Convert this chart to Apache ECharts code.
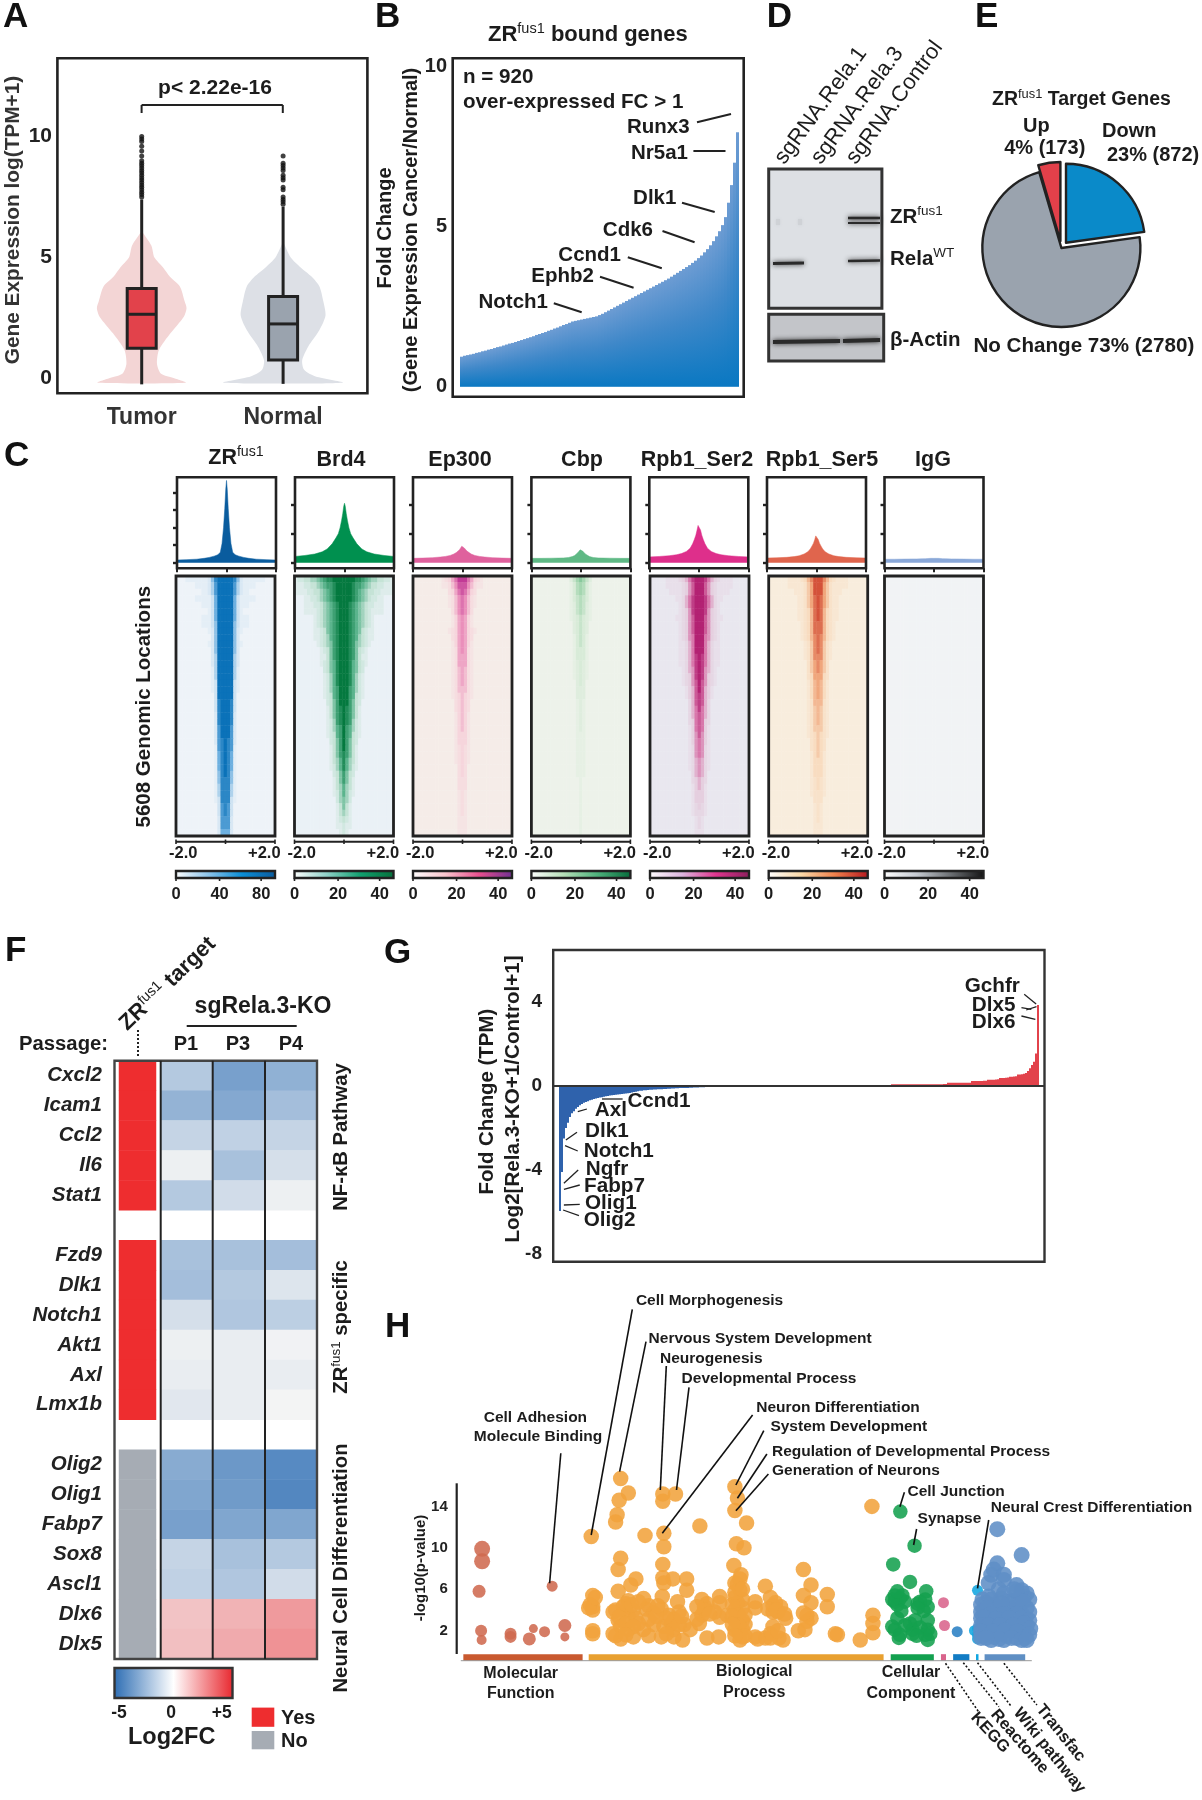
<!DOCTYPE html>
<html><head><meta charset="utf-8">
<style>html,body{margin:0;padding:0;background:#fff}#c{width:1202px;height:1800px}</style>
<script src="https://cdn.jsdelivr.net/npm/echarts@6/dist/echarts.min.js"></script>
</head><body><div id="c"></div>
<script>
// ===== Panel A =====
const violinCategories=['Tumor','Normal'];
const tumorViolin=[[6.1,0],[5.5,.068],[5,.09],[4.6,.15],[4.2,.2],[3.8,.27],[3.2,.303],[2.9,.317],[2.55,.298],[1.86,.203],[1.17,.122],[.6,.108],[.2,.135],[0,.23],[-.18,.311]];
const normalViolin=[[5.65,0],[5,.054],[4.6,.122],[4.2,.203],[3.8,.257],[3.2,.284],[2.6,.3],[2,.257],[1.3,.176],[.75,.135],[.35,.149],[.07,.23],[-.18,.42]];
const boxStats=[[0,-.25,1.24,2.65,3.72,7.4],[1,-.23,.76,2.25,3.38,7.1]];
const tumorOutliers=[7.5,7.6,7.7,7.8,7.9,8,8.1,8.2,8.3,8.4,8.5,8.6,8.7,8.8,8.9,9,9.2,9.4,9.6,9.8,9.9,10];
const normalOutliers=[7.2,7.3,7.4,7.5,7.8,7.9,8.2,8.3,8.4,8.6,8.7,8.8,8.9,9.2];
// ===== Panel B =====
const boundGeneFC=[.94,.97,.99,1.01,1.03,1.06,1.08,1.11,1.13,1.16,1.18,1.21,1.24,1.26,1.29,1.32,1.35,1.37,1.4,1.43,1.46,1.49,1.52,1.55,1.58,1.62,1.65,1.68,1.71,1.75,1.78,1.82,1.85,1.89,1.93,1.96,2,2.04,2.06,2.08,2.1,2.12,2.14,2.16,2.18,2.2,2.24,2.28,2.33,2.38,2.43,2.48,2.53,2.58,2.63,2.68,2.73,2.78,2.83,2.88,2.93,2.98,3.03,3.08,3.13,3.18,3.23,3.28,3.33,3.38,3.44,3.5,3.56,3.62,3.68,3.74,3.8,3.87,3.94,4.02,4.1,4.2,4.3,4.42,4.55,4.7,4.86,5.05,5.3,5.75,6.3,7,7.95];
// ===== Panel C =====
const trackNames=['ZR','Brd4','Ep300','Cbp','Rpb1_Ser2','Rpb1_Ser5','IgG'];
const profileX=[-2,-1.6,-1.2,-.9,-.7,-.5,-.35,-.25,-.18,-.12,-.07,-.03,0,.03,.07,.12,.18,.25,.35,.5,.7,.9,1.2,1.6,2];
const zrProfile=[3,3.5,4,5,6,7.5,9,12,22,40,62,84,94,84,62,40,22,12,9,7.5,6,5,4,3.5,3];
const brd4Profile=[4.3,5,6,7.5,9.5,13,17,20,24,29,34,39,41,39,34,29,24,20,17,13,9.5,7.5,6,5,4.3];
const ep300Profile=[3,3.2,3.5,3.9,4.3,5,6,7,8,9,10.2,11.4,12,11.4,10.2,9,8,7,6,5,4.3,3.9,3.5,3.2,3];
const cbpProfile=[3,3,3.1,3.2,3.3,3.6,4.2,5,6,7,8,8.9,9.2,8.9,8,7,6,5,4.2,3.6,3.3,3.2,3.1,3,3];
const ser2Profile=[4,4.3,4.8,5.5,6.3,7.8,10,13,16,19,22.5,25.7,27,25.7,22.5,19,16,13,10,7.8,6.3,5.5,4.8,4.3,4];
const ser5Profile=[3.2,3.4,3.7,4.2,4.8,6,7.5,9.5,11.5,13.5,16,18.5,19.5,18.5,16,13.5,11.5,9.5,7.5,6,4.8,4.2,3.7,3.4,3.2];
const iggProfile=[2.4,2.4,2.5,2.6,2.6,2.7,2.8,2.9,3,3,3,3,3,3,3,3,3,2.9,2.8,2.7,2.6,2.6,2.5,2.4,2.4];
const zrRows=["9998521111111","9997421111","99974211","9996311111","99963111","999631","99963111","99953111","999521","99952","999521","99952","99942","99942","99941","99941","99931","99931","9993","9983","9983","9982","9982","9972","9972","9872","9871","9861","9861","9861","9851","8851","8841","8841","8831","873","873","772","772","662"];
const brd4Rows=["9999887654433221","9998776543322111","9998765433221111","9998765432211","9987654322111","9987654321111","9987654321","9987654321","9987653211","9987643211","998754321","99875321","99875311","99865321","9986532","9986421","9986421","9976421","9976321","997532","987531","987531","987421","976421","976321","97532","97531","87531","86431","86421","7532","7531","6431","6421","542","531","431","321","211","21"];
const ep300Rows=["9975321","8864211","87532","76421","76421","7642","6531","6531","65321","6532","6531","6521","5521","5521","5421","5421","5421","4421","4321","432","432","431","431","431","331","331","321","321","321","32","32","22","22","21","21","21","21","11","11","11"];
const cbpRows=["7642","6531","6531","5431","5421","5421","4321","432","432","431","431","331","331","321","321","321","32","22","22","21","21","21","21","21","11","11","11","11","11","11","11","1","1","1","1","1","1","1","1","1"];
const ser2Rows=["99864321111","99753211111","9975321111","99864211","9986421","9985321","99753211","9975321","9975321","9965321","9964211","9964211","9864211","9864211","985421","985321","975321","97431","87431","8742","8642","7642","7632","7631","7531","6531","6521","6521","5421","5421","542","432","431","331","331","321","221","21","21","11"];
const ser5Rows=["9975321111","9964211111","99642111","9864211","9864211","9853211","9853211","885321","885321","875321","87421","87421","77421","7642","7642","6632","6531","6531","6531","5521","5421","5421","5421","4421","4321","432","432","431","331","331","331","321","321","221","22","21","21","21","11","11"];
const iggRows=Array(40).fill("0");
const colorbarTicks=[[0,40,80],[0,20,40],[0,20,40],[0,20,40],[0,20,40],[0,20,40],[0,20,40]];
// ===== Panel E =====
const pieNames=['Down','No Change','Up'];
const pieValues=[872,2780,173];
// ===== Panel F =====
const fGenes=['Cxcl2','Icam1','Ccl2','Il6','Stat1','','Fzd9','Dlk1','Notch1','Akt1','Axl','Lmx1b',' ','Olig2','Olig1','Fabp7','Sox8','Ascl1','Dlx6','Dlx5'];
const fPassages=['P1','P3','P4'];
const fP1=[-1.6,-2.4,-1.2,-.2,-1.6,null,-1.9,-2,-.8,-.2,-.3,-.5,null,-2.7,-2.9,-3.1,-1.2,-1.3,1.2,1.3];
const fP3=[-3.1,-2.8,-1.3,-1.9,-.9,null,-1.9,-1.6,-1.7,-.3,-.3,-.3,null,-3.4,-3.3,-2.9,-1.9,-1.7,1.6,1.8];
const fP4=[-2.5,-2,-1.2,-.8,-.2,null,-2,-.6,-1.4,-.1,-.3,-.05,null,-3.9,-4,-2.9,-1.6,-.9,2.2,2.4];
const fTarget=[1,1,1,1,1,null,1,1,1,1,1,1,null,0,0,0,0,0,0,0];
// ===== Panel G =====
const downFC=[-5.95,-4.1,-2.5,-2,-1.75,-1.48,-1.3,-1.2,-1.08,-1,-.92,-.86,-.8,-.76,-.72,-.68,-.65,-.62,-.6,-.57,-.55,-.53,-.51,-.49,-.47,-.45,-.44,-.43,-.42,-.4,-.39,-.38,-.37,-.36,-.35,-.33,-.31,-.29,-.27,-.25,-.23,-.22,-.2,-.2,-.19,-.18,-.18,-.17,-.17,-.16,-.15,-.15,-.14,-.14,-.13,-.13,-.12,-.12,-.11,-.11,-.1,-.1,-.09,-.09,-.09,-.08,-.08,-.07,-.07,-.07,-.06,-.06,-.06];
const flatCount=93;
const upFC=[.09,.09,.09,.09,.09,.09,.09,.09,.09,.09,.09,.09,.09,.09,.09,.09,.09,.09,.09,.09,.09,.09,.09,.09,.09,.09,.1,.1,.15,.15,.15,.15,.15,.15,.15,.15,.15,.16,.16,.16,.24,.24,.24,.24,.24,.24,.25,.25,.3,.3,.3,.3,.31,.32,.38,.38,.38,.39,.4,.44,.44,.45,.46,.55,.55,.56,.58,.62,.72,.85,1,1.16,1.55,3.86];
// ===== Panel H =====
const mfTerms=[[142,9.9,16],[142,8.7,16],[136,5.8,13],[140,2,12],[141,1.1,10],[198,1.7,12],[198,1.4,12],[235,1.2,13],[243,2.2,9],[265,1.9,11],[305,2.5,13],[305,1.4,9],[280,6.3,11]];
const bpTerms=[[357,11.1],[415,16.7],[430,15.3],[412,14.6],[408,13.2],[405,12.5],[415,9],[410,7.9],[498,15.2],[498,14.5],[523,15.2],[500,11.4],[500,10.1],[498,8.4],[498,7.1],[518,7],[500,6.6],[463,11.2],[571,12.1],[640,15.9],[645,14.8],[640,13.6],[663,12.4],[643,10.4],[658,10],[638,8.3],[652,7.4],[640,6.6],[910,14],[775,7.9],[790,6.4],[700,6.3],[822,5.5],[545,7],[545,5.9],[445,7],[435,6.4],[410,5.8],[360,5.4],[360,4.3],[355,4.5],[360,1.7],[405,4],[400,1.7],[415,1.2],[430,4.9],[460,5.1],[420,4.3],[440,4],[465,4.1],[430,3.4],[410,3],[450,2.7],[430,2.1],[415,2.4],[440,1.4],[460,2.1],[497,5.3],[527,4.8],[495,4.1],[510,3.5],[530,3.8],[500,2.4],[515,2.7],[495,1.4],[520,1.4],[537,1.1],[552,2.1],[575,5],[580,4.3],[575,3.5],[570,2.7],[585,1.3],[610,5.3],[610,4.7],[610,3.3],[608,1.4],[640,5.2],[650,5.9],[655,5],[640,4],[655,4.2],[640,3],[655,3],[640,2.1],[655,2.1],[650,1.1],[655,1.4],[680,4.8],[680,4.2],[680,1.4],[700,1.3],[710,5.2],[715,4.4],[730,4.3],[715,3.8],[740,3.2],[715,2.4],[710,1.7],[727,1.3],[765,2],[778,2.1],[775,5.4],[790,4.7],[782,3.5],[790,3.2],[822,4.3],[838,1.7],[842,1.6],[887,1.1],[912,3.5],[912,2.7],[912,1.8],[425,3.9],[445,3.2],[470,4.4],[480,3.7],[520,3.1],[540,2.6],[585,4.6],[600,3.8],[625,3.5],[645,4.7],[660,2.6],[648,1.8],[725,3.8],[735,1.1],[400,3.8],[412,3.3],[425,4.6],[437,4.5],[450,4.8],[470,3.1],[480,2.6],[425,2.7],[440,2.4],[405,1.5],[425,1.6],[470,1.5],[505,3.2],[518,2.1],[530,2.6],[505,1.7],[485,3.4],[488,4.4],[535,3.4],[565,3.1],[580,4],[565,4.3],[590,3.6],[635,4.5],[648,3.5],[635,3.4],[660,3.5],[648,2.5],[635,2.6],[660,1.5],[640,1.5],[645,6.5],[650,7],[640,5.7],[655,6],[720,4.7],[705,4.1],[722,4],[738,3.6],[782,2.9],[775,3.7],[710,1.3],[725,2],[685,1.2],[360,4],[352,4.2],[365,5.2],[360,2]];
const ccTerms=[[966,13.5],[994,10.2],[952,8.4],[985,6.7],[955,5.4],[970,5.4],[1017,5.8],[960,4.5],[1000,4.6],[1020,4.3],[985,2.7],[960,3.2],[995,3],[1020,3],[955,2.1],[990,2.1],[1020,2.1],[963,1.3],[1020,1.1],[975,4.8],[1005,4.8],[955,4.8],[965,5.1],[990,1.7],[1025,1.7],[968,3.9],[1012,3.9],[950,5],[960,5.8],[1015,5],[1000,4.2],[1005,2.3],[975,2.5],[1015,1.6],[950,2.4],[965,1.6],[998,1.5]];
const keggTerms=[[1051,4.7],[1053,2.5]];
const reactomeTerms=[[1078,1.9]];
const wikiTerms=[[1118,5.9],[1118,2.2],[1118,1.6],[1112,2],[1118,1.2]];
const transfacTerms=[[1157,11.8],[1205,9.3],[1157,8.5],[1145,7.4],[1170,6.9],[1140,6.6],[1195,6.4],[1205,5.9],[1210,5.3],[1140,5.3],[1165,5.1],[1190,4.9],[1135,4.7],[1150,4.5],[1175,4.4],[1200,4.4],[1215,4.2],[1130,3.9],[1155,3.8],[1180,3.8],[1205,3.7],[1140,3.3],[1165,3.2],[1190,3.1],[1213,3.2],[1130,2.7],[1150,2.6],[1175,2.6],[1200,2.6],[1215,2.5],[1135,2.1],[1160,2],[1185,2],[1208,2],[1130,1.5],[1150,1.4],[1175,1.5],[1195,1.3],[1212,1.3],[1145,1.1],[1170,1.1],[1160,1.7],[1125,3.2],[1125,4.5],[1160,6],[1128,5],[1145,5],[1170,5.6],[1180,4.8],[1200,5.2],[1215,5.6],[1195,5.8],[1220,5],[1125,3.8],[1138,4.2],[1160,4.2],[1188,4.2],[1165,4.6],[1208,4.8],[1220,3.8],[1145,3.6],[1170,3.6],[1195,3.6],[1130,3.3],[1155,3.1],[1180,3.2],[1205,3.2],[1220,3],[1125,2.5],[1140,2.5],[1162,2.5],[1188,2.5],[1210,2.7],[1222,2.2],[1125,1.9],[1148,1.9],[1172,2],[1197,1.9],[1220,1.6],[1125,1.3],[1160,1.2],[1185,1.3],[1205,1.1],[1215,1.1],[1135,1.3],[1150,7.9],[1170,7.4],[1190,6]];
const ontologyExtent=[[105,340],[352,933],[947,1032],[1046,1056],[1070,1102],[1115,1120],[1132,1212]];

// ===== helpers =====
const FF='"Liberation Sans",Arial,sans-serif', INK='#222';
const grids=[],xAxes=[],yAxes=[],series=[],visualMaps=[],G=[];
function addGrid(l,t,w,h,x,y){grids.push({left:l,top:t,width:w,height:h,containLabel:false});const i=grids.length-1;xAxes.push(Object.assign({gridIndex:i},x));yAxes.push(Object.assign({gridIndex:i},y));return i;}
function T(text,x,y,o={}){G.push({type:'text',silent:true,z:60,x,y,rotation:(o.rot||0)*Math.PI/180,style:{text,fill:o.color||'#1c1c1c',font:`${o.italic?'italic ':''}${o.w||'bold'} ${o.s||18}px ${FF}`,align:o.a||'left',verticalAlign:o.v||'middle'}});}
function S(base,sup,tail,x,y,o={}){const s=o.s||18;const a={fontFamily:FF,fontWeight:'bold',fontSize:s,lineHeight:s*1.2,fill:'#1c1c1c'};G.push({type:'text',silent:true,z:60,x,y,rotation:(o.rot||0)*Math.PI/180,style:{text:`{a|${base}}{b|${sup}}`+(tail?`{a|${tail}}`:''),fill:'#1c1c1c',align:o.a||'left',verticalAlign:'middle',rich:{a,b:{fontFamily:FF,fontWeight:'normal',fontSize:s*.66,lineHeight:s*1.2,verticalAlign:'top',fill:'#1c1c1c'}}}});}
function L(x1,y1,x2,y2,o={}){G.push({type:'line',silent:true,z:o.z||55,shape:{x1,y1,x2,y2},style:{stroke:o.c||INK,lineWidth:o.w||1.6,lineDash:o.dash||null,shadowBlur:o.blur||0,shadowColor:o.c||INK}});}
function R(x,y,w,h,o={}){G.push({type:'rect',silent:true,z:o.z||55,shape:{x,y,width:w,height:h},style:{fill:o.fill||'none',stroke:o.stroke||null,lineWidth:o.lw||0}});}

// ----- A -----
const aGrid=addGrid(71,58.3,282.8,335,
 {type:'category',data:violinCategories,axisLine:{show:false},axisTick:{alignWithLabel:true,length:3,lineStyle:{color:INK,width:2}},axisLabel:{margin:13,color:'#333',fontFamily:FF,fontWeight:'bold',fontSize:23}},
 {type:'value',min:-.62,max:13.24,splitLine:{show:false},axisLine:{show:false},axisTick:{show:false},axisLabel:{customValues:[0,5,10],margin:19,color:'#222',fontFamily:FF,fontWeight:'bold',fontSize:21}});
function violinSeries(idx,profile,color){series.push({type:'custom',xAxisIndex:aGrid,yAxisIndex:aGrid,silent:true,data:[[idx,profile[0][0]]],clip:false,z:2,renderItem:(p,api)=>{const band=api.size([1,0])[0];const left=profile.map(d=>{const c=api.coord([idx,d[0]]);return[c[0]-d[1]*band,c[1]];});const right=profile.slice().reverse().map(d=>{const c=api.coord([idx,d[0]]);return[c[0]+d[1]*band,c[1]];});return{type:'polygon',shape:{points:left.concat(right),smooth:.25},style:{fill:color}};}});}
violinSeries(0,tumorViolin,'#f3d5d5');violinSeries(1,normalViolin,'#dde0e6');
const boxFill=['#e2424b','#9aa3ae'];
series.push({type:'custom',xAxisIndex:aGrid,yAxisIndex:aGrid,silent:true,z:3,clip:false,data:boxStats,renderItem:(p,api)=>{const i=api.value(0),lo=api.coord([i,api.value(1)]),q1=api.coord([i,api.value(2)]),m=api.coord([i,api.value(3)]),q3=api.coord([i,api.value(4)]),hi=api.coord([i,api.value(5)]),w=29;const st={stroke:INK,lineWidth:3};return{type:'group',children:[{type:'line',shape:{x1:lo[0],y1:lo[1],x2:hi[0],y2:hi[1]},style:st},{type:'rect',shape:{x:q1[0]-w/2,y:q3[1],width:w,height:q1[1]-q3[1]},style:{fill:boxFill[i],stroke:INK,lineWidth:3}},{type:'line',shape:{x1:m[0]-w/2,y1:m[1],x2:m[0]+w/2,y2:m[1]},style:st}]};}});
series.push({type:'scatter',xAxisIndex:aGrid,yAxisIndex:aGrid,silent:true,z:3,symbolSize:5,itemStyle:{color:'#111'},data:tumorOutliers.map(v=>[0,v]).concat(normalOutliers.map(v=>[1,v]))});
R(57.4,58.3,310,335,{stroke:INK,lw:2.6});
L(141.6,113,141.6,105,{w:2});L(141.6,105,282.8,105,{w:2});L(282.8,105,282.8,113,{w:2});
T('p< 2.22e-16',215,88,{a:'center',s:21});
T('Gene Expression log(TPM+1)',13.4,220,{rot:90,a:'center',s:20.8,color:'#333'});
T('A',3,17,{s:35,color:'#111'});

// ----- B -----
const bGrid=addGrid(460,58.3,279,331.7,
 {type:'category',data:boundGeneFC.map((_,i)=>i+1),show:false},
 {type:'value',min:-.1,max:10.26,splitLine:{show:false},axisLine:{show:false},axisTick:{show:false},axisLabel:{customValues:[0,5,10],margin:13,color:'#222',fontFamily:FF,fontWeight:'bold',fontSize:20}});
series.push({type:'bar',xAxisIndex:bGrid,yAxisIndex:bGrid,silent:true,barCategoryGap:0,data:boundGeneFC,itemStyle:{color:{type:'linear',x:0,y:0,x2:0,y2:1,colorStops:[{offset:0,color:'#6d9cd3'},{offset:.45,color:'#3f88c9'},{offset:1,color:'#0a78c2'}]}}});
R(452.7,58.3,291,338.4,{stroke:INK,lw:2.6});
S('ZR','fus1',' bound genes',488,35,{s:22});
T('n = 920',463,77,{s:20.6});T('over-expressed FC > 1',463,102.7,{s:20.6});
T('Fold Change',385.8,228,{rot:90,a:'center',s:20});T('(Gene Expression Cancer/Normal)',411,230,{rot:90,a:'center',s:20});
[['Runx3',689.6,127.3,697,122.3,731,114],['Nr5a1',688,153,693.4,151,725.5,151],['Dlk1',676.4,198,682,202.7,714.7,212],['Cdk6',653,230.7,662.5,231,694.6,242.3],['Ccnd1',621,255,627.8,257.3,661.8,268.3],['Ephb2',594,276.7,600,276.7,633.6,287.7],['Notch1',548,302.7,553.8,303.3,581.7,312.3]].forEach(a=>{T(a[0],a[1],a[2],{a:'right',s:20.5});L(a[3],a[4],a[5],a[6],{w:2});});
T('B',375,17,{s:35,color:'#111'});

// ----- C -----
const trackLefts=[177,295,413,531.4,649.3,767,884.5];
const heatLefts=[176,294.5,413,531.4,650,768.7,884.5];
const profiles=[zrProfile,brd4Profile,ep300Profile,cbpProfile,ser2Profile,ser5Profile,iggProfile];
const trackColor=['#0a5c9e','#00904f','#df619d','#5fb985','#de2f8b','#e0654d','#8aa8d8'];
const heatRows=[zrRows,brd4Rows,ep300Rows,cbpRows,ser2Rows,ser5Rows,iggRows];
const heatScale=[['#eef3f8','#cfe3f2','#6db0e0','#0b72b9'],['#eaf1f6','#c5e3d6','#5bb48d','#04793f'],['#f5ece8','#f6d5dc','#ea8fbb','#c23a96'],['#edf2ea','#d8ebd8','#a4d6b0','#4fae78'],['#e9e7ef','#e5cfdf','#d877ab','#b32273'],['#f8eddd','#f8dcc0','#f0a67c','#d4523a'],['#f1f3f5','#eceef1','#dde0e4']];
const barStops=[['#fff','#8cc4ea','#0a8ed6','#0b5a9c'],['#fff','#8fd1c8','#11a06f','#05703a'],['#fff','#f9c5cd','#e8508f','#6e2f92'],['#fff','#b5dfb8','#4eb27c','#056b3a'],['#fff','#dcb4de','#e0368f','#8a1e5c'],['#fff','#fad9a8','#f0824d','#b5171e'],['#fff','#c6cbd2','#6c7074','#111']];
const titleCX=[236,341,460,582,697,822,933];
const colIdx=Array.from({length:31},(_,i)=>i),rowIdx=Array.from({length:40},(_,i)=>i);
trackNames.forEach((n,k)=>{
 const isZr=k===0,l=trackLefts[k],W=99;
 const gi=addGrid(l,477.3,W,91,
  {type:'value',min:-2,max:2,axisLine:{show:false,onZero:false},splitLine:{show:false},axisLabel:{show:false},axisTick:{customValues:[-2,0,2],length:4,lineStyle:{color:INK,width:2}}},
  {type:'value',min:isZr?-6.4:-3.86,max:isZr?97.6:58.9,axisLine:{show:false,onZero:false},splitLine:{show:false},axisLabel:{show:false},axisTick:{customValues:isZr?[0,20,40,60,80]:[0,20,40],length:4,lineStyle:{color:INK,width:2.4}}});
 series.push({type:'line',xAxisIndex:gi,yAxisIndex:gi,silent:true,symbol:'none',lineStyle:{width:.5,color:trackColor[k]},areaStyle:{color:trackColor[k],opacity:1},data:profileX.map((x,i)=>[x,profiles[k][i]])});
 R(l,477.3,W,91,{stroke:INK,lw:2.6});
 if(isZr)S('ZR','fus1','',titleCX[k],458,{s:21.5,a:'center'});else T(n,titleCX[k],460,{a:'center',s:21.5});
 const hl=heatLefts[k];
 const hi=addGrid(hl,576,99,260,{type:'category',data:colIdx,show:false},{type:'category',data:rowIdx,inverse:true,show:false});
 const cells=[];heatRows[k].forEach((row,r)=>{for(let c=0;c<31;c++){const d=Math.abs(c-15);cells.push([c,r,+(row[d]||0)]);}});
 series.push({type:'heatmap',xAxisIndex:hi,yAxisIndex:hi,silent:true,progressive:0,data:cells,emphasis:{disabled:true}});
 visualMaps.push({show:false,type:'continuous',min:0,max:9,seriesIndex:series.length-1,dimension:2,inRange:{color:heatScale[k]}});
 R(hl,576,99,260,{stroke:INK,lw:2.8});
 L(hl,841.7,hl+99,841.7,{w:2});[0,49.5,99].forEach(d=>L(hl+d,839.5,hl+d,844,{w:1.6}));
 T('-2.0',hl-7,853.5,{s:16.5});T('+2.0',hl+72,853.5,{s:16.5});
 const st=barStops[k];
 R(hl,871,99,7,{fill:{type:'linear',x:0,y:0,x2:1,y2:0,colorStops:[{offset:0,color:st[0]},{offset:.33,color:st[1]},{offset:.66,color:st[2]},{offset:1,color:st[3]}]},stroke:INK,lw:2.4});
 colorbarTicks[k].forEach((t,i)=>{const px=hl+[0,.44,.86][i]*99;L(px,878,px,881,{w:1.6});T(String(t),px,894,{a:'center',s:16.5});});
});
T('5608 Genomic Locations',144.3,706.7,{rot:90,a:'center',s:20.5});
T('C',4,456,{s:35,color:'#111'});

// ----- D -----
R(768.7,169,113.2,139.3,{fill:'#dde0e4',stroke:'#333',lw:3});
R(768.7,314.3,115,46.7,{fill:'#c3c5c9',stroke:'#333',lw:3});
[[848,218,880,218,2.6],[848,223,880,223,2],[773,263.5,804,263,3],[848,261,880,260.5,2.6],[773,342,840,341,3.8],[843,341,880,340,3.8]].forEach(b=>L(b[0],b[1],b[2],b[3],{w:b[4],c:'#2a2a2a',blur:5}));
[[778,222],[800,222]].forEach(b=>L(b[0],b[1]-3,b[0],b[1]+3,{w:4,c:'#cfd2d6',blur:3}));
T('sgRNA.Rela.1',779.5,161.7,{rot:53.5,s:22,w:'normal'});T('sgRNA.Rela.3',816,161.7,{rot:53.5,s:22,w:'normal'});T('sgRNA.Control',851,161.7,{rot:53.5,s:22,w:'normal'});
S('ZR','fus1','',890,217,{s:20.5});S('Rela','WT','',890,259,{s:20.5});T('β-Actin',890,340,{s:20.5});
T('D',766.8,17,{s:35,color:'#111'});

// ----- E -----
series.push({type:'pie',center:[1061.4,248],radius:[0,79],startAngle:90,clockwise:true,silent:true,selectedMode:'multiple',selectedOffset:7,label:{show:false},labelLine:{show:false},itemStyle:{borderColor:INK,borderWidth:2.4},
 data:[{name:pieNames[0],value:pieValues[0],selected:true,itemStyle:{color:'#0a8ac9'}},{name:pieNames[1],value:pieValues[1],itemStyle:{color:'#9aa3ae'}},{name:pieNames[2],value:pieValues[2],selected:true,itemStyle:{color:'#e2404a'}}]});
S('ZR','fus1',' Target Genes',992,100,{s:19.5});
T('Up',1036.3,126.7,{a:'center',s:20});T('4% (173)',1044.8,148.3,{a:'center',s:20});
T('Down',1102,131.7,{s:20});T('23% (872)',1107,155,{s:20});
T('No Change 73% (2780)',973.4,346,{s:20.6});
T('E',975,17,{s:35,color:'#111'});

// ----- F -----
const fRows=fGenes.map((_,i)=>i);
const tGrid=addGrid(119,1060.8,37,598.2,{type:'category',data:['target'],show:false},{type:'category',data:fRows,inverse:true,axisLine:{show:false},axisTick:{show:false},axisLabel:{margin:17,interval:0,formatter:v=>fGenes[+v],fontFamily:FF,fontWeight:'bold',fontStyle:'italic',fontSize:20.5,color:'#222'}});
series.push({type:'heatmap',xAxisIndex:tGrid,yAxisIndex:tGrid,silent:true,data:fTarget.map((v,i)=>[0,i,v]).filter(d=>d[2]!==null),emphasis:{disabled:true}});
visualMaps.push({show:false,type:'continuous',min:0,max:1,seriesIndex:series.length-1,dimension:2,inRange:{color:['#a6acb4','#ee2d2f']}});
const fGrid=addGrid(160.7,1060.8,156,598.2,{type:'category',data:fPassages,show:false},{type:'category',data:fRows,inverse:true,show:false});
const fCells=[];[fP1,fP3,fP4].forEach((a,c)=>a.forEach((v,r)=>{if(v!==null)fCells.push([c,r,v]);}));
series.push({type:'heatmap',xAxisIndex:fGrid,yAxisIndex:fGrid,silent:true,data:fCells,emphasis:{disabled:true}});
visualMaps.push({show:false,type:'continuous',min:-5,max:5,seriesIndex:series.length-1,dimension:2,inRange:{color:['#2b6cb3','#f5f5f5','#e8262d']}});
R(114.5,1060.8,202.5,598.2,{stroke:'#444',lw:2.4});
[160.7,212.7,265].forEach(x=>L(x,1060.8,x,1659,{w:2,c:'#222'}));
S('ZR','fus1',' target',123,1027,{s:22,rot:44});
T('sgRela.3-KO',263,1007,{a:'center',s:23});L(186.7,1026,296.7,1026,{w:1.8});
T('Passage:',19,1044,{s:20.3});T('P1',186,1044,{a:'center',s:20});T('P3',238,1044,{a:'center',s:20});T('P4',291,1044,{a:'center',s:20});
L(138,1030,138,1058,{w:2,dash:[2,2]});
T('NF-κB Pathway',341.7,1137,{rot:90,a:'center',s:20.3});
S('ZR','fus1',' specific',341.7,1327,{rot:90,a:'center',s:20.3});
T('Neural Cell Differentiation',341.7,1568,{rot:90,a:'center',s:20.3});
R(114.5,1668,118,30,{fill:{type:'linear',x:0,y:0,x2:1,y2:0,colorStops:[{offset:0,color:'#2b6cb3'},{offset:.5,color:'#ffffff'},{offset:1,color:'#e8262d'}]},stroke:'#333',lw:2.4});
T('-5',119,1713,{a:'center',s:17.5});T('0',171,1713,{a:'center',s:17.5});T('+5',221.7,1713,{a:'center',s:17.5});
T('Log2FC',171.7,1738,{a:'center',s:23.5});
R(251.7,1707.6,22.6,19.2,{fill:'#ee2d2f'});R(251.7,1731,22.6,18.3,{fill:'#a6acb4'});
T('Yes',281,1718,{s:20});T('No',281,1741.4,{s:20});
T('F',5,951,{s:35,color:'#111'});

// ----- G -----
const gValues=downFC.concat(Array(flatCount).fill(0),upFC);
const gGrid=addGrid(559,950,480,311.7,{type:'category',data:gValues.map((_,i)=>i),show:false},
 {type:'value',min:-8.37,max:6.48,splitLine:{show:false},axisLine:{show:false},axisTick:{show:false},axisLabel:{customValues:[4,0,-4,-8],margin:17,color:'#222',fontFamily:FF,fontWeight:'bold',fontSize:19}});
series.push({type:'bar',xAxisIndex:gGrid,yAxisIndex:gGrid,silent:true,barCategoryGap:0,data:gValues,itemStyle:{color:p=>p.value<0?'#2f62ac':'#e2424b'}});
R(553.2,950,491.3,311.7,{stroke:'#333',lw:2.4});L(553.2,1086,1044.5,1086,{w:2,c:'#333'});
T('Fold Change (TPM)',487.7,1101.7,{rot:90,a:'center',s:20.4});T('Log2[Rela.3-KO+1/Control+1]',513.5,1099,{rot:90,a:'center',s:20.6});
[['Gchfr',964.7,986],['Dlx5',971.8,1005],['Dlx6',971.8,1022.3],['Ccnd1',627.4,1101.7],['Axl',594.8,1110],['Dlk1',585,1131.7],['Notch1',583.7,1151.7],['Ngfr',585.7,1169],['Fabp7',584,1186],['Olig1',585,1203.3],['Olig2',583.7,1220]].forEach(a=>T(a[0],a[1],a[2],{s:20.7}));
const gz=(x1,y1,x2,y2)=>L(450+x1/2.52,930+y1/3,450+x2/2.52,930+y2/3,{w:1.3,c:'#222'});
[[1447,193,1477,222],[1440,233,1465,238],[1452,240,1478,230],[1440,258,1475,268],[383,507,435,507],[322,545,345,537],[320,607,292,630],[290,647,322,663],[323,720,287,760],[287,778,327,765],[287,825,327,823],[285,840,325,857]].forEach(a=>gz(...a));
T('G',384,953,{s:35,color:'#111'});

// ----- H -----
const hGrid=addGrid(460.8,1483.3,571,177.4,{type:'value',min:100,max:1225,show:false},
 {type:'value',min:-.9,max:16.23,splitLine:{show:false},axisLine:{show:false},axisTick:{show:false},axisLabel:{customValues:[2,6,10,14],margin:13,color:'#222',fontFamily:FF,fontWeight:'bold',fontSize:15}});
[[mfTerms,'#cf6a50',14],[bpTerms,'#f1a33c',15.5],[ccTerms,'#15a04f',14.5],[keggTerms,'#d9648c',11],[reactomeTerms,'#2a7fc4',11],[wikiTerms,'#12a6e0',11],[transfacTerms,'#5e8ec6',16]].forEach(c=>{
 series.push({type:'scatter',xAxisIndex:hGrid,yAxisIndex:hGrid,silent:true,clip:false,data:c[0],symbolSize:d=>d[2]||c[2],itemStyle:{color:c[1],opacity:.88}});
});
const ontologyColor=['#c9592f','#e8a030','#13a04f','#d9648c','#127cc4','#12a6e0','#5f8fc4'];
series.push({type:'custom',xAxisIndex:hGrid,yAxisIndex:hGrid,silent:true,clip:false,data:ontologyExtent,renderItem:(p,api)=>{const a=api.coord([api.value(0),-.27]),b=api.coord([api.value(1),-.9]);return{type:'rect',shape:{x:a[0],y:a[1],width:b[0]-a[0],height:b[1]-a[1]},style:{fill:ontologyColor[p.dataIndex]}};}});
L(456.7,1483.3,456.7,1654,{w:2.2});L(460.8,1660.7,1031.8,1660.7,{w:1,c:'#999'});
T('-log10(p-value)',421,1568,{rot:90,a:'center',s:15});
const annot=[['Cell Morphogenesis',635.9,1301,632.3,1309.3,591.2,1535],['Nervous System Development',648.6,1339,646,1341.7,619.6,1471.7],['Neurogenesis',660,1358.3,666.3,1366,660.3,1490],['Developmental Process',681.6,1379,689,1387.3,676.5,1490],['Neuron Differentiation',756.2,1408,752.6,1415,662.3,1533.3],['System Development',770.4,1426.7,763.8,1430.7,735.9,1485],['Regulation of Developmental Process',772,1451.7,766.9,1454,737.4,1498.3],['Generation of Neurons',772,1470.3,768.4,1474,735.9,1510.7],['Cell Junction',907.5,1492,904.4,1492.3,899.9,1506.7],['Synapse',917.6,1518.7,916.6,1529,913.6,1545],['Neural Crest Differentiation',990.7,1507.3,988.7,1520,977.5,1588.3]];
annot.forEach(a=>{T(a[0],a[1],a[2],{s:15.5});L(a[3],a[4],a[5],a[6],{w:1.6,c:'#111'});});
T('Cell Adhesion',535.4,1418,{a:'center',s:15.5});T('Molecule Binding',538,1436.7,{a:'center',s:15.5});L(560.8,1453.3,549.6,1583.3,{w:1.6,c:'#111'});
[['Molecular',520.7,1673.3],['Function',520.7,1694],['Biological',754.2,1671.7],['Process',754.2,1692.3],['Cellular',911,1673],['Component',911,1694]].forEach(a=>T(a[0],a[1],a[2],{a:'center',s:16}));
[['KEGG',973.5,1715,-47],['Reactome',993.8,1711.7,-49],['Wiki pathway',1016.6,1710,-51],['Transfac',1039.4,1706.7,-51]].forEach(a=>T(a[0],a[1],a[2],{rot:a[3],s:16.5}));
[[945.5,1663.3,978.5,1711.7],[963.3,1662.7,998.8,1706.7],[977.5,1662.7,1011.5,1706.7],[1003.9,1663.3,1036.9,1705]].forEach(a=>L(a[0],a[1],a[2],a[3],{w:1.6,dash:[2,2],c:'#111'}));
T('H',385,1327,{s:35,color:'#111'});

const chart=echarts.init(document.getElementById('c'),null,{renderer:'canvas',width:1202,height:1800});
chart.setOption({animation:false,backgroundColor:'#fff',grid:grids,xAxis:xAxes,yAxis:yAxes,visualMap:visualMaps,series,graphic:{elements:G}});
</script></body></html>
